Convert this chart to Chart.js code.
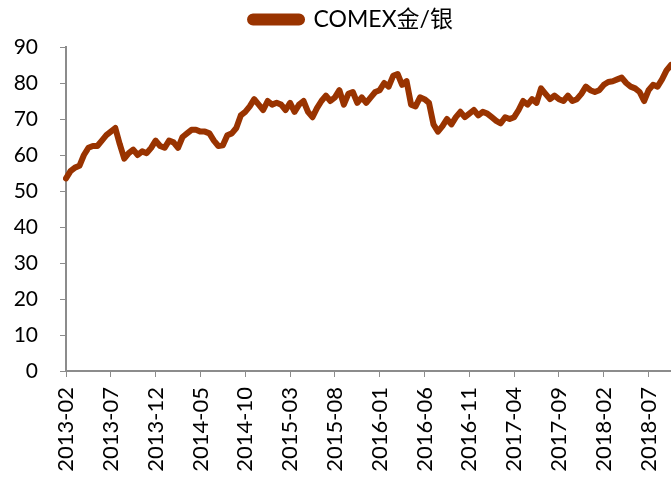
<!DOCTYPE html>
<html>
<head>
<meta charset="utf-8">
<script src="https://cdn.jsdelivr.net/npm/chart.js@4/dist/chart.umd.min.js"></script>
<style>
  html, body { margin: 0; padding: 0; background: #ffffff; }
  #wrap { width: 671px; height: 477px; position: relative; }
</style>
</head>
<body>
<div id="wrap"><canvas id="c"></canvas></div>
<script>
// Semi-monthly readings, 2013-02 through 2018-09
const seriesName = "COMEX金/银";
const startYear = 2013, startMonth = 2, pointsPerMonth = 2;
const ratioValues = [
  53.5, 55.5, 56.5, 57, 60, 62, 62.5, 62.5, 64, 65.5,
  66.5, 67.5, 63, 59, 60.5, 61.5, 60, 61, 60.5, 62,
  64, 62.5, 62, 64, 63.5, 62, 65, 66, 67, 67,
  66.5, 66.5, 66, 64, 62.5, 62.7, 65.5, 66, 67.5, 71,
  72, 73.5, 75.5, 74, 72.5, 75, 74, 74.5, 74, 72.5,
  74.5, 72, 74, 75, 72, 70.5, 73, 75, 76.5, 75,
  76, 78, 74, 77, 77.5, 74.5, 76, 74.5, 76, 77.5,
  78, 80, 79, 82, 82.5, 79.5, 80.5, 74, 73.5, 76,
  75.5, 74.5, 68.5, 66.5, 68, 70, 68.5, 70.5, 72, 70.5,
  71.5, 72.5, 71, 72, 71.5, 70.5, 69.5, 68.8, 70.5, 70,
  70.5, 72.5, 75, 74, 75.5, 74.5, 78.5, 77, 75.5, 76.5,
  75.5, 75, 76.5, 75, 75.5, 77, 79, 78, 77.5, 78,
  79.5, 80.3, 80.5, 81, 81.5, 80, 79, 78.5, 77.5, 75,
  78, 79.5, 79, 81, 83.5, 85
];
const yTicks = [0, 10, 20, 30, 40, 50, 60, 70, 80, 90];
const tickEvery = 10; // one label every 5 months

const dateLabels = [];
for (let i = 0; i < ratioValues.length; i++) {
  const m0 = (startMonth - 1) + Math.floor(i / pointsPerMonth);
  const y = startYear + Math.floor(m0 / 12);
  const m = (m0 % 12) + 1;
  const d = (i % pointsPerMonth === 0) ? '01' : '15';
  dateLabels.push(y + '-' + String(m).padStart(2, '0') + '-' + d);
}

const lineColor = '#993300';
const axisColor = '#8c8c8c';
const fontFam = 'Lato, "Noto Sans CJK SC", sans-serif';

const legendSpace = {
  id: 'legendSpace',
  beforeInit(chart) {
    const lg = chart.legend;
    if (!lg) return;
    const origFit = lg.fit;
    lg.fit = function() {
      origFit.call(this);
      this.height += 6;
    };
    const origDraw = lg.draw;
    lg.draw = function() {
      const ctx = this.ctx;
      ctx.save();
      ctx.translate(16, 0);
      origDraw.apply(this, arguments);
      ctx.restore();
    };
  }
};

new Chart(document.getElementById('c'), {
  type: 'line',
  data: {
    labels: dateLabels,
    datasets: [{
      label: seriesName,
      data: ratioValues,
      borderColor: lineColor,
      backgroundColor: lineColor,
      borderWidth: 6,
      pointRadius: 0,
      tension: 0,
      borderJoinStyle: 'round',
      borderCapStyle: 'round',
      fill: false
    }]
  },
  plugins: [legendSpace],
  options: {
    responsive: true,
    maintainAspectRatio: false,
    animation: false,
    layout: { padding: { left: 0, right: 0, top: 2, bottom: 0 } },
    plugins: {
      tooltip: { enabled: false },
      legend: {
        display: true,
        position: 'top',
        labels: {
          color: '#000000',
          font: { family: fontFam, size: 23 },
          boxWidth: 52,
          boxHeight: 6,
          useBorderRadius: true,
          borderRadius: 3,
          padding: 6
        }
      }
    },
    scales: {
      x: {
        type: 'category',
        offset: false,
        grid: {
          display: true,
          drawOnChartArea: false,
          drawTicks: true,
          tickLength: 6,
          color: axisColor
        },
        border: { display: true, color: axisColor, width: 2 },
        ticks: {
          autoSkip: false,
          maxRotation: 90,
          minRotation: 90,
          color: '#000000',
          padding: 10,
          font: { family: fontFam, size: 22 },
          callback: function(value, index) {
            if (index % tickEvery !== 0) return null;
            return dateLabels[index].slice(0, 7);
          }
        },
        afterFit: function(scale) {
          scale.height = 106;
          scale.paddingLeft = 0;
          scale.paddingRight = 0;
        }
      },
      y: {
        min: 0,
        max: 90,
        afterBuildTicks: function(scale) {
          scale.ticks = yTicks.map(v => ({ value: v }));
        },
        grid: {
          display: true,
          drawOnChartArea: false,
          drawTicks: true,
          tickLength: 6,
          color: axisColor
        },
        border: { display: true, color: axisColor, width: 2 },
        ticks: {
          color: '#000000',
          padding: 22,
          font: { family: fontFam, size: 21 }
        },
        afterFit: function(scale) { scale.width = 66; }
      }
    }
  }
});
</script>
</body>
</html>
